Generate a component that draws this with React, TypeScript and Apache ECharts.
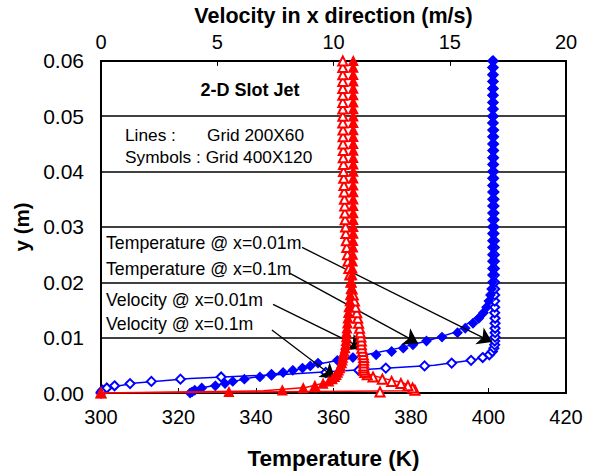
import React, { useEffect, useRef } from "react";
import * as echarts from "echarts";

// Wall-normal distance of the nodes (m) for the fine grid (400X120)
const fineY = [
  0.0, 0.0002, 0.0005, 0.0009, 0.0013, 0.0017, 0.0021, 0.0025, 0.0029, 0.0033,
  0.0037, 0.0041, 0.0045, 0.0049, 0.0054, 0.0059, 0.0064, 0.0069, 0.0075, 0.0081,
  0.0087, 0.0094, 0.0101, 0.0109, 0.0117, 0.0126, 0.0135, 0.0145, 0.0155, 0.0166,
  0.0177, 0.0188, 0.02, 0.0213, 0.0225, 0.0238, 0.025, 0.0263, 0.0275, 0.0288,
  0.03, 0.0313, 0.0325, 0.0338, 0.035, 0.0363, 0.0375, 0.0388, 0.04, 0.0413,
  0.0425, 0.0438, 0.045, 0.0463, 0.0475, 0.0488, 0.05, 0.0513, 0.0525, 0.0538,
  0.055, 0.0563, 0.0575, 0.0588, 0.06,
];

// Fine grid: temperature (K) at x = 0.01 m
const fineTempX001 = [
  300.0, 300.1, 300.4, 301.5, 303.5, 307.5, 313.0, 320.5, 331.0, 344.0,
  358.0, 366.5, 373.5, 383.5, 390.5, 395.5, 398.5, 400.2, 401.0, 401.4,
  401.6, 401.6, 401.7, 401.7, 401.7, 401.7, 401.7, 401.6, 401.6, 401.6,
  401.6, 401.6, 401.6, 401.5, 401.5, 401.5, 401.5, 401.5, 401.5, 401.4,
  401.4, 401.4, 401.4, 401.4, 401.4, 401.4, 401.3, 401.3, 401.3, 401.3,
  401.3, 401.3, 401.3, 401.3, 401.3, 401.2, 401.2, 401.2, 401.2, 401.2,
  401.2, 401.2, 401.2, 401.2, 401.2,
];

// Fine grid: temperature (K) at x = 0.1 m
const fineTempX01 = [
  323.0, 323.5, 324.2, 326.0, 329.5, 332.0, 334.0, 337.0, 341.0, 344.0,
  347.0, 349.5, 352.0, 354.0, 356.0, 361.0, 365.0, 371.0, 375.0, 378.0,
  380.5, 384.0, 388.0, 392.0, 394.0, 396.0, 397.5, 398.7, 399.5, 400.1,
  400.5, 400.8, 401.0, 401.0, 401.0, 401.0, 401.0, 401.0, 401.0, 401.0,
  401.0, 401.0, 401.0, 401.0, 401.0, 401.0, 401.0, 401.0, 401.0, 401.0,
  401.0, 401.0, 401.0, 401.0, 401.0, 401.0, 401.0, 401.0, 401.0, 401.0,
  401.0, 401.0, 401.0, 401.0, 401.0,
];

// Fine grid: velocity in x direction (m/s) at x = 0.01 m
const fineVelX001 = [
  0.0, 12.0, 13.5, 13.4, 13.2, 12.9, 12.5, 12.1, 11.7, 11.45,
  11.35, 11.3, 11.3, 11.3, 11.3, 11.3, 11.3, 11.28, 11.25, 11.22,
  11.2, 11.2, 11.18, 11.15, 11.12, 11.08, 11.04, 11.0, 10.95, 10.9,
  10.85, 10.8, 10.75, 10.7, 10.66, 10.62, 10.6, 10.57, 10.55, 10.53,
  10.52, 10.5, 10.49, 10.48, 10.47, 10.46, 10.45, 10.44, 10.43, 10.43,
  10.42, 10.42, 10.41, 10.41, 10.41, 10.4, 10.4, 10.4, 10.4, 10.4,
  10.4, 10.4, 10.4, 10.4, 10.4,
];

// Fine grid: velocity in x direction (m/s) at x = 0.1 m
const fineVelX01 = [
  0.0, 5.5, 7.8, 8.7, 9.2, 9.55, 9.8, 9.95, 10.05, 10.12,
  10.18, 10.22, 10.27, 10.3, 10.35, 10.38, 10.4, 10.43, 10.46, 10.5,
  10.52, 10.54, 10.55, 10.56, 10.58, 10.6, 10.62, 10.64, 10.66, 10.7,
  10.72, 10.75, 10.77, 10.8, 10.81, 10.82, 10.83, 10.84, 10.84, 10.85,
  10.85, 10.85, 10.85, 10.85, 10.85, 10.85, 10.85, 10.85, 10.85, 10.85,
  10.85, 10.85, 10.85, 10.85, 10.85, 10.85, 10.85, 10.85, 10.85, 10.85,
  10.85, 10.85, 10.85, 10.85, 10.85,
];

// Wall-normal distance of the nodes (m) for the coarse grid (200X60)
const coarseY = [
  0.0, 0.0004, 0.001, 0.0018, 0.0026, 0.0034, 0.0042, 0.005, 0.006, 0.007,
  0.0082, 0.0095, 0.011, 0.013, 0.015, 0.0175, 0.02, 0.025, 0.03, 0.035,
  0.04, 0.045, 0.05, 0.055, 0.06,
];

const coarseTempX001 = [
  300.0, 300.3, 302.0, 309.0, 323.0, 348.0, 367.0, 386.0, 396.5, 400.5,
  401.3, 401.6, 401.6, 401.6, 401.6, 401.5, 401.5, 401.4, 401.4, 401.3,
  401.3, 401.3, 401.2, 401.2, 401.2,
];

const coarseTempX01 = [
  323.0, 324.0, 326.5, 332.5, 337.5, 344.5, 350.5, 354.5, 362.0, 369.0,
  377.5, 384.5, 391.5, 395.5, 398.8, 400.3, 400.9, 401.0, 401.0, 401.0,
  401.0, 401.0, 401.0, 401.0, 401.0,
];

const coarseVelX001 = [
  0.0, 13.3, 13.4, 13.0, 12.2, 11.5, 11.3, 11.3, 11.3, 11.25,
  11.2, 11.18, 11.13, 11.05, 10.95, 10.85, 10.75, 10.58, 10.5, 10.46,
  10.43, 10.41, 10.4, 10.4, 10.4,
];

const coarseVelX01 = [
  0.0, 7.0, 8.8, 9.6, 9.95, 10.12, 10.22, 10.3, 10.38, 10.44,
  10.5, 10.54, 10.56, 10.6, 10.64, 10.7, 10.77, 10.82, 10.84, 10.85,
  10.85, 10.85, 10.85, 10.85, 10.85,
];

// Annotation labels and the (temperature, y) points their arrows run between
const callouts = [
  { text: "Temperature @ x=0.01m", from: [351.9, 0.0263], to: [400.9, 0.0092] },
  { text: "Temperature @ x=0.1m", from: [348.8, 0.0216], to: [381.8, 0.009] },
  { text: "Velocity @ x=0.01m", from: [344.4, 0.016], to: [367.4, 0.0081] },
  { text: "Velocity @ x=0.1m", from: [344.1, 0.0114], to: [360.4, 0.0027] },
];
const calloutTextY = [243, 269, 300, 324];

const FONT = '"Liberation Sans", Arial, Helvetica, sans-serif';
const BLUE = "#0000ff";
const RED = "#ff0000";

const pairs = (xs: number[], ys: number[]) => xs.map((x, i) => [x, ys[i]]);

export default function App() {
  const ref = useRef<HTMLDivElement>(null);

  useEffect(() => {
    document.body.style.margin = "0";
    if (!ref.current) return;
    const chart = echarts.init(ref.current, undefined, { renderer: "svg" });

    const axisName = { fontSize: 21.5, fontWeight: "bold", color: "#000", fontFamily: FONT };
    const axisLabel = { fontSize: 20, color: "#000", fontFamily: FONT };

    const lineSeries = (name: string, data: number[][], color: string, xAxisIndex: number, extra = {}) => ({
      name,
      type: "line",
      xAxisIndex,
      yAxisIndex: 0,
      data,
      showSymbol: false,
      symbol: "none",
      lineStyle: { color, width: 1.5 },
      itemStyle: { color },
      silent: true,
      z: 2,
      ...extra,
    });

    const symbolSeries = (name: string, data: number[][], color: string, xAxisIndex: number, symbol: string, z: number) => ({
      name,
      type: "scatter",
      xAxisIndex,
      yAxisIndex: 0,
      data,
      symbol,
      symbolSize: 9,
      itemStyle: { color, borderColor: color, borderWidth: 1.3, opacity: 1 },
      silent: true,
      z,
    });

    const plainText = (text: string, x: number, y: number, font: string, align = "left") => ({
      type: "text",
      x,
      y,
      silent: true,
      style: { text, font, fill: "#000", align, verticalAlign: "middle" },
    });

    chart.setOption({
      animation: false,
      backgroundColor: "#ffffff",
      grid: {
        left: 101,
        right: 29,
        top: 60,
        bottom: 83,
        show: true,
        borderColor: "#000",
        borderWidth: 2,
        backgroundColor: "transparent",
      },
      xAxis: [
        {
          type: "value",
          position: "bottom",
          min: 300,
          max: 420,
          interval: 20,
          name: "Temperature (K)",
          nameLocation: "middle",
          nameGap: 54,
          nameTextStyle: { ...axisName, fontSize: 22.5 },
          axisLine: { show: true, lineStyle: { color: "#000", width: 2 } },
          axisTick: { show: true, inside: true, length: 5, lineStyle: { color: "#000", width: 1 } },
          axisLabel: { ...axisLabel, margin: 14 },
          splitLine: { show: false },
        },
        {
          type: "value",
          position: "top",
          min: 0,
          max: 20,
          interval: 5,
          name: "Velocity in x direction (m/s)",
          nameLocation: "middle",
          nameGap: 32,
          nameTextStyle: axisName,
          axisLine: { show: true, lineStyle: { color: "#000", width: 2 } },
          axisTick: { show: true, inside: true, length: 5, lineStyle: { color: "#000", width: 1 } },
          axisLabel: { ...axisLabel, margin: 9 },
          splitLine: { show: false },
        },
      ],
      yAxis: {
        type: "value",
        min: 0,
        max: 0.06,
        interval: 0.01,
        name: "y (m)",
        nameLocation: "middle",
        nameRotate: 90,
        nameGap: 62,
        nameTextStyle: { ...axisName, fontSize: 20.5 },
        axisLine: { show: true, lineStyle: { color: "#000", width: 2 } },
        axisTick: { show: false },
        axisLabel: { ...axisLabel, fontSize: 21, margin: 17, formatter: (v: number) => v.toFixed(2) },
        splitLine: { show: true, lineStyle: { color: "#000", width: 1.5 } },
      },
      graphic: [
        plainText("2-D Slot Jet", 250, 90, `bold 18px ${FONT}`, "center"),
        plainText("Lines :", 125, 135, `17.3px ${FONT}`),
        plainText("Grid 200X60", 207, 135, `17.3px ${FONT}`),
        plainText("Symbols : Grid 400X120", 125, 157, `17.3px ${FONT}`),
        ...callouts.map((c, i) => plainText(c.text, 106, calloutTextY[i], `17.7px ${FONT}`)),
      ],
      series: [
        lineSeries("Temperature @ x=0.01m (200X60)", pairs(coarseTempX001, coarseY), BLUE, 0, {
          markLine: {
            silent: true,
            symbol: ["none", "arrow"],
            symbolSize: 14,
            label: { show: false },
            lineStyle: { color: "#000", width: 1.3, type: "solid" },
            emphasis: { disabled: true },
            data: callouts.map((c) => [{ coord: c.from }, { coord: c.to }]),
          },
        }),
        lineSeries("Temperature @ x=0.1m (200X60)", pairs(coarseTempX01, coarseY), BLUE, 0),
        symbolSeries("Temperature @ x=0.01m (400X120)", pairs(fineTempX001, fineY), BLUE, 0, "emptyDiamond", 3),
        symbolSeries("Temperature @ x=0.1m (400X120)", pairs(fineTempX01, fineY), BLUE, 0, "diamond", 3),
        lineSeries("Velocity @ x=0.01m (200X60)", pairs(coarseVelX001, coarseY), RED, 1, { z: 4 }),
        lineSeries("Velocity @ x=0.1m (200X60)", pairs(coarseVelX01, coarseY), RED, 1, { z: 4 }),
        symbolSeries("Velocity @ x=0.01m (400X120)", pairs(fineVelX001, fineY), RED, 1, "emptyTriangle", 5),
        symbolSeries("Velocity @ x=0.1m (400X120)", pairs(fineVelX01, fineY), RED, 1, "triangle", 5),
      ],
    });

    return () => chart.dispose();
  }, []);

  return <div ref={ref} style={{ width: 595, height: 476 }} />;
}
